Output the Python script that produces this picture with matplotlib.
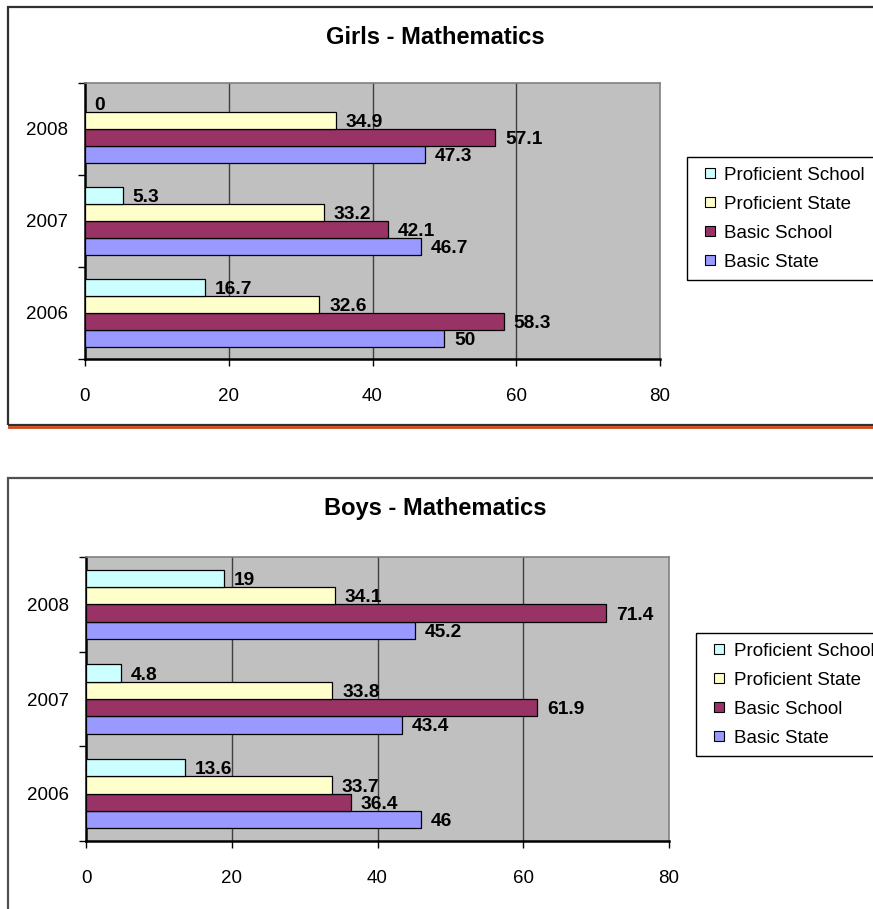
import matplotlib.pyplot as plt
from matplotlib.patches import Rectangle
from matplotlib.lines import Line2D

plt.rcParams['font.family'] = ['Liberation Sans', 'DejaVu Sans']

# data
years = ['2006', '2007', '2008']
series = ['Basic State', 'Basic School', 'Proficient State', 'Proficient School']
colors = ['#9999FF', '#993366', '#FFFFCC', '#CCFFFF']

girls_basic_state = [50, 46.7, 47.3]
girls_basic_school = [58.3, 42.1, 57.1]
girls_prof_state = [32.6, 33.2, 34.9]
girls_prof_school = [16.7, 5.3, 0]

boys_basic_state = [46, 43.4, 45.2]
boys_basic_school = [36.4, 61.9, 71.4]
boys_prof_state = [33.7, 33.8, 34.1]
boys_prof_school = [13.6, 4.8, 19]

xticks = [0, 20, 40, 60, 80]

W, H = 873, 909
fig = plt.figure(figsize=(W / 100, H / 100), dpi=100)


def fx(px):
    return px / W


def fy(py):
    return 1 - py / H


def draw_panel(rect, title, title_y, values, legend_xy):
    left, top, right, bottom = rect
    ax = fig.add_axes([fx(left), fy(bottom), fx(right - left), (bottom - top) / H])
    ax.set_facecolor('#C0C0C0')
    h = 0.1825
    offsets = [-1.5 * h, -0.5 * h, 0.5 * h, 1.5 * h]
    for vals, off, c in zip(values, offsets, colors):
        ys = [i + off for i in range(len(years))]
        ax.barh(ys, vals, height=h, color=c, edgecolor='black', linewidth=0.9, zorder=3)
        for y, v in zip(ys, vals):
            ax.annotate(f'{v:g}', xy=(v, y), xytext=(7, -1.5), textcoords='offset points',
                        va='center', ha='left', fontsize=13.8, fontweight='bold', zorder=4)
    ax.set_xlim(0, 80)
    ax.set_ylim(-0.5, 2.5)
    ax.set_xticks(xticks)
    ax.set_yticks(range(len(years)))
    ax.set_yticklabels(years)
    ax.set_yticks([-0.5, 0.5, 1.5, 2.5], minor=True)
    ax.tick_params(axis='y', which='major', length=0, pad=12, labelsize=13.5)
    ax.tick_params(axis='y', which='minor', length=5, width=1, direction='out')
    ax.tick_params(axis='x', length=5, width=1, direction='out', pad=16, labelsize=13.5)
    for x in [20, 40, 60]:
        ax.axvline(x, color='#404040', linewidth=1, zorder=1)
    ax.spines['left'].set_linewidth(1.8)
    ax.spines['bottom'].set_linewidth(1.8)
    for s in ['top', 'right']:
        ax.spines[s].set_color('#808080')
        ax.spines[s].set_linewidth(1.2)
    fig.text(fx(435), fy(title_y), title, ha='center', va='center',
             fontsize=17, fontweight='bold')
    handles = [Line2D([], [], marker='s', linestyle='none', markersize=6.5,
                      markerfacecolor=c, markeredgecolor='black', markeredgewidth=0.8)
               for c in colors[::-1]]
    leg = fig.legend(handles, series[::-1], loc='upper left',
                     bbox_to_anchor=(fx(legend_xy[0]), fy(legend_xy[1])),
                     bbox_transform=fig.transFigure, borderaxespad=0,
                     fontsize=13.5, handlelength=1.4, handletextpad=0.1,
                     borderpad=0.5, labelspacing=0.64, fancybox=False,
                     framealpha=1, edgecolor='black')
    leg.get_frame().set_linewidth(1)
    return ax


# outer frames
fig.add_artist(Rectangle((fx(7.5), fy(425)), 1.2, (425 - 7) / H, transform=fig.transFigure,
                         fill=False, edgecolor='#303030', linewidth=1.6))
fig.add_artist(Line2D([fx(9), 1.0], [fy(427.2), fy(427.2)], transform=fig.transFigure,
                      color='#D0481A', linewidth=2))
fig.add_artist(Rectangle((fx(7.5), -0.2), 1.2, 0.2 + fy(478), transform=fig.transFigure,
                         fill=False, edgecolor='#505050', linewidth=1.6))

draw_panel((85, 83, 660, 359), 'Girls - Mathematics', 38,
           [girls_basic_state, girls_basic_school, girls_prof_state, girls_prof_school],
           (687, 157))
draw_panel((86, 557, 669, 841), 'Boys - Mathematics', 508,
           [boys_basic_state, boys_basic_school, boys_prof_state, boys_prof_school],
           (696, 633))

fig.savefig('out.png', dpi=100)
